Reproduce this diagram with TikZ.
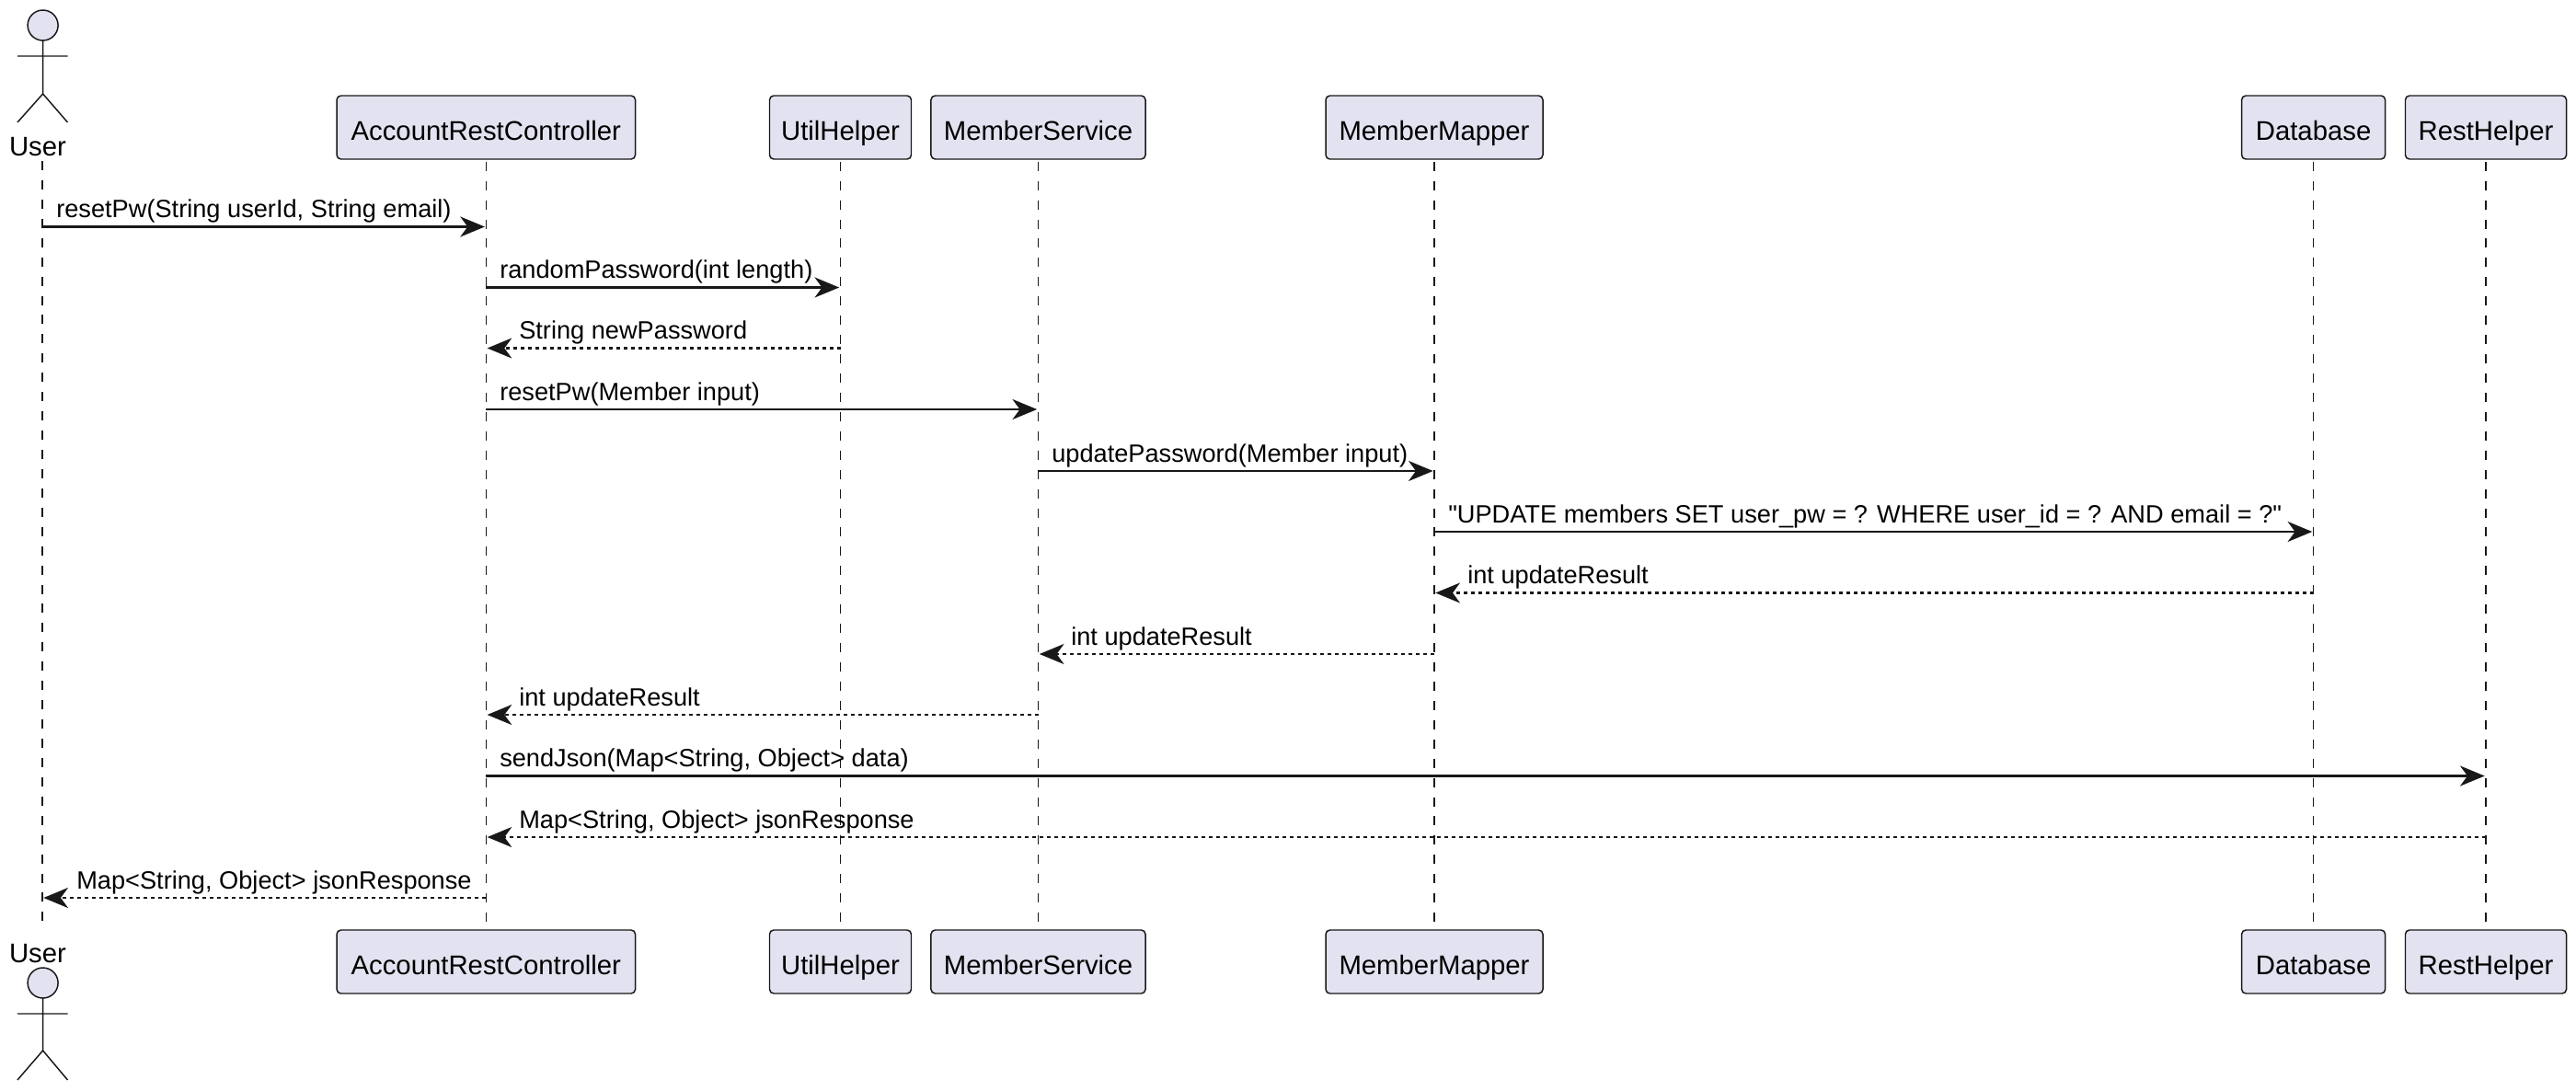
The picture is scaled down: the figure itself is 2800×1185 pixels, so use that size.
\documentclass[tikz,border=0pt]{standalone}
\usepackage{fontspec}
\usepackage{xcolor}
\setmainfont[Ligatures=TeXOff]{Liberation Sans}
\usetikzlibrary{arrows.meta}
\definecolor{partfill}{HTML}{E2E2F0}
\definecolor{partline}{HTML}{181818}
\tikzset{
  partbox/.style={draw=partline,fill=partfill,line width=1.1pt,rounded corners=3.4pt,minimum height=51.75pt,inner sep=0pt,text height=22pt,text depth=0.5pt,font=\fontsize{22}{26}\selectfont},
  actorline/.style={draw=partline,line width=1.1pt},
  actorname/.style={inner sep=0pt,font=\fontsize{22}{26}\selectfont},
  lifeline/.style={draw=partline,line width=1.15pt,dash pattern=on 7.5pt off 8.2pt},
  callmsg/.style={draw=partline,line width=1.6pt,-{Stealth[length=20pt,width=16.5pt,inset=6pt]},shorten >=1pt},
  replymsg/.style={draw=partline,line width=1.6pt,dash pattern=on 3pt off 3pt,-{Stealth[length=20pt,width=16.5pt,inset=6pt]},shorten >=1pt},
  msgtext/.style={anchor=base west,inner sep=0pt,font=\fontsize{20.4}{24}\selectfont}
}

\begin{document}
\begin{tikzpicture}[x=0.75pt,y=0.75pt,yscale=-1,xscale=1]
\useasboundingbox (0,0) rectangle (2800,1185);

%Shape: Actor top
\draw [actorline,fill=partfill] (46.6,27.5) circle (16.5);
\draw [actorline] (46.6,44) -- (46.6,102) (19,61) -- (73.5,61) (19,133) -- (46.6,102) -- (73.5,133);
%Shape: Actor bottom
\draw [actorline,fill=partfill] (46.6,1068.5) circle (16.5);
\draw [actorline] (46.6,1085) -- (46.6,1142) (19,1102) -- (73.5,1102) (19,1174) -- (46.6,1142) -- (73.5,1174);

% Text Node
\node [actorname] (userNameTop) at (41,159.5) {User};
\node [actorname] (userNameBottom) at (41,1036.5) {User};

% Participants
\node [partbox,minimum width=243.4pt] (arcTop) at (528.3,138.5) {AccountRestController};
\node [partbox,minimum width=115.5pt] (utilTop) at (913.5,138.5) {UtilHelper};
\node [partbox,minimum width=174.8pt] (serviceTop) at (1128.5,138.5) {MemberService};
\node [partbox,minimum width=177pt] (mapperTop) at (1559,138.5) {MemberMapper};
\node [partbox,minimum width=117pt] (dbTop) at (2514.6,138.5) {Database};
\node [partbox,minimum width=131.3pt] (restTop) at (2702,138.5) {RestHelper};
\node [partbox,minimum width=243.4pt] (arcBottom) at (528.3,1045.5) {AccountRestController};
\node [partbox,minimum width=115.5pt] (utilBottom) at (913.5,1045.5) {UtilHelper};
\node [partbox,minimum width=174.8pt] (serviceBottom) at (1128.5,1045.5) {MemberService};
\node [partbox,minimum width=177pt] (mapperBottom) at (1559,1045.5) {MemberMapper};
\node [partbox,minimum width=117pt] (dbBottom) at (2514.6,1045.5) {Database};
\node [partbox,minimum width=131.3pt] (restBottom) at (2702,1045.5) {RestHelper};

%Straight Lines
\coordinate (userTop) at (46,175);
\coordinate (userBottom) at (46,1012);
\draw [lifeline] (userTop) -- (userBottom);
\draw [lifeline,shorten <=1.5pt] (arcTop) -- (arcBottom);
\draw [lifeline,shorten <=1.5pt] (utilTop) -- (utilBottom);
\draw [lifeline,shorten <=1.5pt] (serviceTop) -- (serviceBottom);
\draw [lifeline,shorten <=1.5pt] (mapperTop) -- (mapperBottom);
\draw [lifeline,shorten <=1.5pt] (dbTop) -- (dbBottom);
\draw [lifeline,shorten <=1.5pt] (restTop) -- (restBottom);

% Message rows
\coordinate (row1) at (0,246.5);
\coordinate (row2) at (0,312.5);
\coordinate (row3) at (0,378.5);
\coordinate (row4) at (0,445);
\coordinate (row5) at (0,512);
\coordinate (row6) at (0,578);
\coordinate (row7) at (0,644.5);
\coordinate (row8) at (0,711);
\coordinate (row9) at (0,777);
\coordinate (row10) at (0,843.5);
\coordinate (row11) at (0,910);
\coordinate (row12) at (0,976);

%Straight Lines
\draw [callmsg] (userTop |- row1) -- (arcTop |- row1);
\draw [callmsg] (arcTop |- row2) -- (utilTop |- row2);
\draw [replymsg] (utilTop |- row3) -- (arcTop |- row3);
\draw [callmsg] (arcTop |- row4) -- (serviceTop |- row4);
\draw [callmsg] (serviceTop |- row5) -- (mapperTop |- row5);
\draw [callmsg] (mapperTop |- row6) -- (dbTop |- row6);
\draw [replymsg] (dbTop |- row7) -- (mapperTop |- row7);
\draw [replymsg] (mapperTop |- row8) -- (serviceTop |- row8);
\draw [replymsg] (serviceTop |- row9) -- (arcTop |- row9);
\draw [callmsg] (arcTop |- row10) -- (restTop |- row10);
\draw [replymsg] (restTop |- row11) -- (arcTop |- row11);
\draw [replymsg] (arcTop |- row12) -- (userTop |- row12);

% Text Node
\node [msgtext] (label1) at (61,236.5) {resetPw(String userId, String email)};
\node [msgtext] (label2) at (543,302.5) {randomPassword(int length)};
\node [msgtext] (label3) at (564,368.5) {String newPassword};
\node [msgtext] (label4) at (543,435) {resetPw(Member input)};
\node [msgtext] (label5) at (1143,502) {updatePassword(Member input)};
\node [msgtext] (label6) at (1574,568) {"UPDATE members SET user\_pw = ? WHERE user\_id = ? AND email = ?"};
\node [msgtext] (label7) at (1595,634.5) {int updateResult};
\node [msgtext] (label8) at (1164,701) {int updateResult};
\node [msgtext] (label9) at (564,767) {int updateResult};
\node [msgtext] (label10) at (543,833.5) {sendJson(Map<String, Object> data)};
\node [msgtext] (label11) at (564,900) {Map<String, Object> jsonResponse};
\node [msgtext] (label12) at (83,966) {Map<String, Object> jsonResponse};

\end{tikzpicture}
\end{document}
